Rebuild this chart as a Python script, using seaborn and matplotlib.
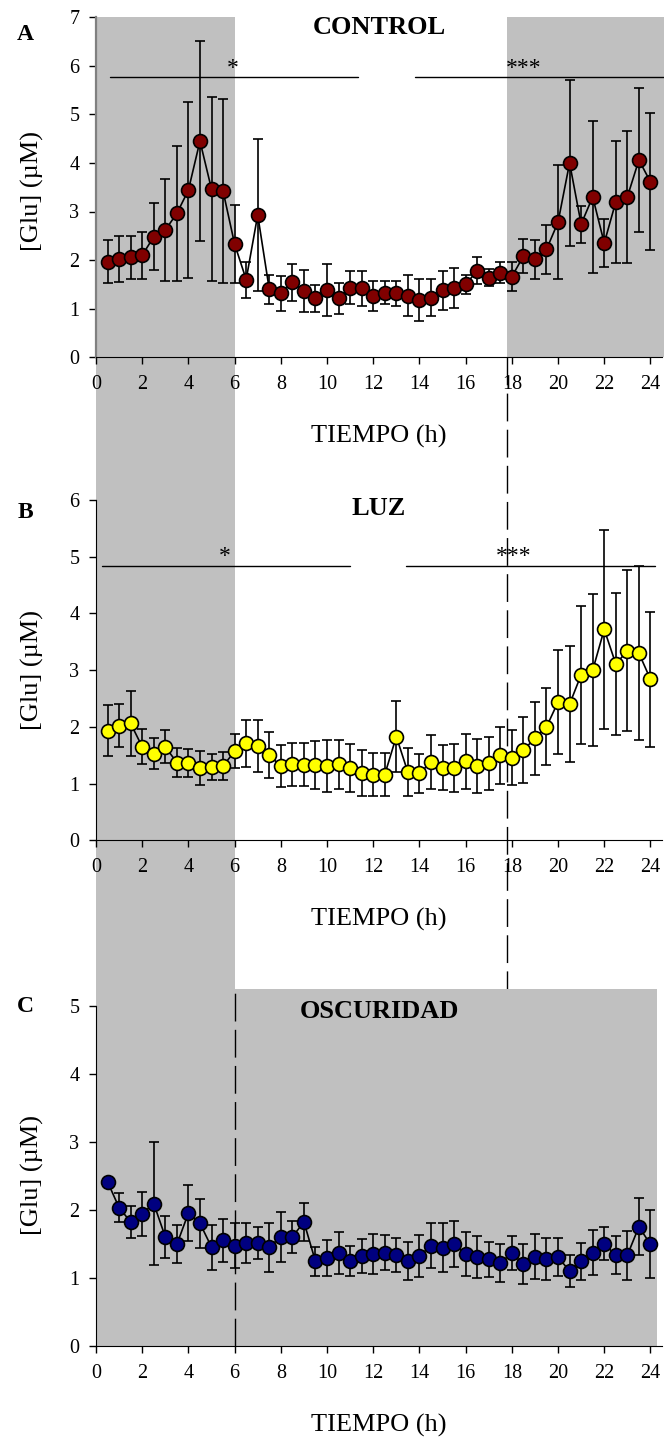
import numpy as np
import matplotlib
matplotlib.use("Agg")
import matplotlib.pyplot as plt
import matplotlib.transforms as mtransforms
from matplotlib.patches import Rectangle
from matplotlib.lines import Line2D
import seaborn as sns

# sampling times (h)
hours = [0.5, 1.0, 1.5, 2.0, 2.5, 3.0, 3.5, 4.0, 4.5, 5.0, 5.5, 6.0,
         6.5, 7.0, 7.5, 8.0, 8.5, 9.0, 9.5, 10.0, 10.5, 11.0, 11.5, 12.0,
         12.5, 13.0, 13.5, 14.0, 14.5, 15.0, 15.5, 16.0, 16.5, 17.0, 17.5, 18.0,
         18.5, 19.0, 19.5, 20.0, 20.5, 21.0, 21.5, 22.0, 22.5, 23.0, 23.5, 24.0]

control_mean = [1.97, 2.02, 2.06, 2.10, 2.48, 2.62, 2.96, 3.44, 4.45, 3.46, 3.42, 2.33,
                1.60, 2.93, 1.40, 1.32, 1.54, 1.36, 1.21, 1.38, 1.21, 1.43, 1.42, 1.26,
                1.33, 1.32, 1.27, 1.18, 1.23, 1.38, 1.42, 1.50, 1.78, 1.64, 1.74, 1.66,
                2.08, 2.02, 2.22, 2.78, 4.00, 2.74, 3.30, 2.35, 3.20, 3.30, 4.06, 3.61]
control_err = [0.44, 0.47, 0.44, 0.48, 0.69, 1.04, 1.39, 1.81, 2.06, 1.90, 1.89, 0.81,
               0.37, 1.56, 0.30, 0.36, 0.38, 0.43, 0.27, 0.54, 0.31, 0.34, 0.36, 0.30,
               0.23, 0.26, 0.43, 0.44, 0.39, 0.40, 0.41, 0.19, 0.28, 0.18, 0.22, 0.30,
               0.35, 0.40, 0.50, 1.17, 1.71, 0.38, 1.57, 0.49, 1.25, 1.36, 1.49, 1.41]

luz_mean = [1.93, 2.02, 2.06, 1.65, 1.53, 1.65, 1.37, 1.36, 1.28, 1.30, 1.31, 1.57,
            1.71, 1.66, 1.50, 1.31, 1.34, 1.33, 1.33, 1.31, 1.34, 1.28, 1.19, 1.16,
            1.16, 1.83, 1.20, 1.18, 1.38, 1.28, 1.27, 1.39, 1.31, 1.36, 1.50, 1.46,
            1.59, 1.80, 2.00, 2.44, 2.40, 2.92, 3.00, 3.72, 3.11, 3.34, 3.30, 2.84]
luz_err = [0.45, 0.38, 0.57, 0.31, 0.27, 0.29, 0.26, 0.25, 0.30, 0.23, 0.25, 0.30,
           0.42, 0.46, 0.41, 0.37, 0.38, 0.38, 0.42, 0.46, 0.43, 0.42, 0.41, 0.38,
           0.38, 0.63, 0.42, 0.34, 0.48, 0.40, 0.42, 0.48, 0.47, 0.47, 0.50, 0.49,
           0.58, 0.64, 0.68, 0.92, 1.02, 1.22, 1.34, 1.75, 1.26, 1.42, 1.53, 1.19]

osc_mean = [2.41, 2.03, 1.82, 1.94, 2.09, 1.60, 1.49, 1.95, 1.80, 1.45, 1.55, 1.47,
            1.51, 1.51, 1.45, 1.60, 1.60, 1.82, 1.24, 1.29, 1.36, 1.24, 1.32, 1.35,
            1.37, 1.33, 1.24, 1.32, 1.47, 1.44, 1.50, 1.35, 1.31, 1.27, 1.22, 1.36,
            1.20, 1.31, 1.28, 1.30, 1.10, 1.24, 1.37, 1.50, 1.33, 1.33, 1.75, 1.49]
osc_err = [0.00, 0.21, 0.24, 0.32, 0.90, 0.31, 0.28, 0.41, 0.36, 0.33, 0.32, 0.33,
           0.29, 0.24, 0.36, 0.37, 0.23, 0.28, 0.21, 0.27, 0.31, 0.22, 0.25, 0.29,
           0.26, 0.25, 0.28, 0.31, 0.33, 0.36, 0.34, 0.32, 0.31, 0.26, 0.28, 0.25,
           0.29, 0.33, 0.31, 0.28, 0.24, 0.27, 0.33, 0.24, 0.28, 0.36, 0.42, 0.50]

titles = ["CONTROL", "LUZ", "OSCURIDAD"]
letters = ["A", "B", "C"]
colors = ["#800000", "#FFFF00", "#000080"]
ymax = [7, 6, 5]
xticks = list(range(0, 25, 2))

# significance bars: (x0, x1, y) and star labels (x, y, text)
sig_lines = {0: [(0.6, 11.35, 5.77), (13.8, 24.6, 5.77)],
             1: [(0.25, 11.0, 4.84), (13.4, 24.2, 4.84)]}
sig_stars = {0: [(5.93, 5.95, "*"), (18.5, 5.95, "***")],
             1: [(5.58, 5.0, "*"), (18.1, 5.0, "***")]}

night_start = 17.8
grey = "#C0C0C0"

sns.set_style("ticks")
plt.rcParams["font.family"] = ["Liberation Serif", "DejaVu Serif"]
plt.rcParams.update({"text.color": "black", "axes.labelcolor": "black",
                     "axes.edgecolor": "black", "xtick.color": "black",
                     "ytick.color": "black"})

fig = plt.figure(figsize=(6.64, 14.4), dpi=100)
H = 1440.0
left, width = 96 / 664, 566 / 664
# (bottom px of y=0, px per unit, ylim top)
frames = [(357.3, 48.6, 7.0), (840.3, 56.7, 6.0), (1345.7, 68.0, 5.25)]
axes = []
for y0, ppu, top in frames:
    ax = fig.add_axes([left, 1 - y0 / H, width, top * ppu / H])
    ax.set_facecolor("none")
    axes.append(ax)

series = [(control_mean, control_err), (luz_mean, luz_err), (osc_mean, osc_err)]
xl_y = [-0.234, -0.234, -0.222]
yl_y = [0.49, 0.5, 0.478]
for i, ax in enumerate(axes):
    m, e = series[i]
    ax.errorbar(hours, m, yerr=e, fmt="none", ecolor="black", elinewidth=1.2,
                capsize=3.8, capthick=1.2, zorder=2)
    sns.lineplot(x=hours, y=m, ax=ax, color="black", lw=1.2, zorder=3)
    sns.scatterplot(x=hours, y=m, ax=ax, s=100, color=colors[i],
                    edgecolor="black", linewidth=1.2, zorder=4)
    ax.set_xlim(0, 24.5)
    ax.set_ylim(0, frames[i][2])
    ax.set_xticks(xticks)
    ax.set_yticks(range(0, ymax[i] + 1))
    sns.despine(ax=ax)
    ax.spines["left"].set_bounds(0, ymax[i])
    ax.tick_params(axis="both", direction="out", length=5, width=1, labelsize=14.5,
                   colors="black")
    ax.tick_params(axis="y", pad=7)
    ax.tick_params(axis="x", pad=8)
    ax.set_xlabel("TIEMPO (h)", fontsize=19)
    ax.xaxis.label.set_va("center")
    ax.xaxis.set_label_coords(0.5, xl_y[i])
    ax.set_ylabel("[Glu] (µM)", fontsize=19)
    ax.yaxis.label.set_va("center")
    ax.yaxis.set_label_coords(-0.113, yl_y[i])
    for x0, x1, yy in sig_lines.get(i, []):
        ax.plot([x0, x1], [yy, yy], color="black", lw=1, clip_on=False, zorder=1)
    for xs, ys, s in sig_stars.get(i, []):
        ax.text(xs, ys, s, ha="center", va="center", fontsize=17)

axes[0].spines["left"].set_color("#808080")
axes[0].spines["left"].set_linewidth(1.6)

# shading (light/dark periods)
blend = mtransforms.blended_transform_factory(axes[2].transData, fig.transFigure)
fig.add_artist(Rectangle((0, 1 - 1345.7 / H), 6, (1345.7 - 17) / H,
                         transform=blend, facecolor=grey, edgecolor="none", zorder=-2))
axes[0].axvspan(night_start, 24.6, color=grey, lw=0, zorder=0, clip_on=False)
axes[2].axvspan(6, 24.3, color=grey, lw=0, zorder=0)

fig.add_artist(Line2D([night_start, night_start], [1 - 357.3 / H, 1 - 1345.7 / H],
                      transform=blend, color="black", lw=1, dashes=(20, 6), zorder=-1))
axes[2].plot([6, 6], [0, 5.19], color="black", lw=1, dashes=(20, 6), zorder=1)

for i, ax in enumerate(axes):
    cy = [28, 508, 1012][i]
    fig.text(379 / 664, 1 - cy / H, titles[i], ha="center", va="center",
             fontsize=19, fontweight="bold")
    ly = [34, 513, 1006][i]
    fig.text(25 / 664, 1 - ly / H, letters[i], ha="center", va="center",
             fontsize=17, fontweight="bold")

fig.savefig("out.png", dpi=100)
